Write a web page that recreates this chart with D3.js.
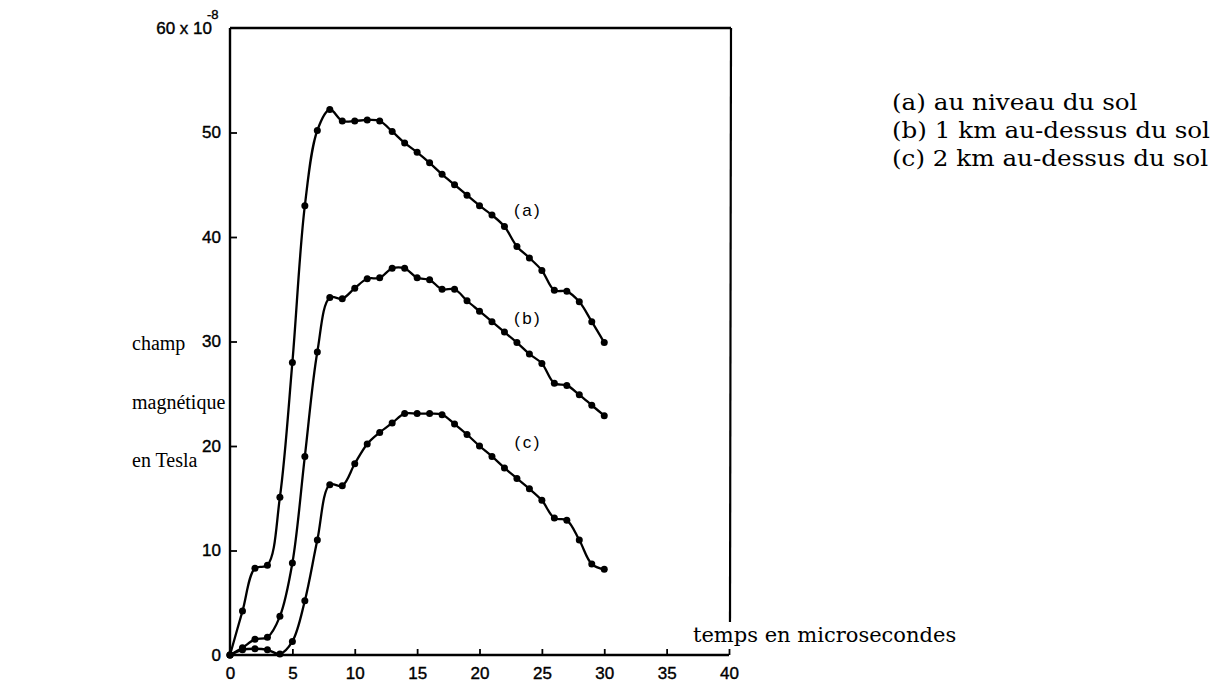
<!DOCTYPE html>
<html>
<head>
<meta charset="utf-8">
<script src="https://cdn.jsdelivr.net/npm/d3@7/dist/d3.min.js"></script>
<style>
  html, body { margin: 0; padding: 0; background: #fff; }
  svg { display: block; }
  .tick text { font-family: "Liberation Sans", Arial, sans-serif; }
</style>
</head>
<body>
<svg id="chart" width="1224" height="682"></svg>
<script>
// ---- data ----
const times = [0,1,2,3,4,5,6,7,8,9,10,11,12,13,14,15,16,17,18,19,20,21,22,23,24,25,26,27,28,29,30];
const seriesA = [0,4.2,8.3,8.6,15.1,28,43,50.2,52.2,51.1,51.1,51.2,51.1,50.1,49.0,48.1,47.1,46.0,45.0,44.0,43.0,42.1,41.0,39.1,38.0,36.8,34.9,34.8,33.8,31.9,29.9];
const seriesB = [0,0.7,1.5,1.7,3.7,8.8,19,29,34.2,34.1,35.1,36.0,36.1,37.0,37.0,36.1,35.9,35.0,35.0,33.9,32.9,31.9,30.9,29.9,28.8,27.9,26.0,25.8,24.9,23.9,22.9];
const seriesC = [0,0.5,0.6,0.5,0.1,1.3,5.2,11,16.3,16.2,18.3,20.2,21.3,22.2,23.1,23.1,23.1,23.0,22.1,21.1,20.0,19.0,17.9,16.9,15.9,14.8,13.1,12.9,11.0,8.7,8.2];
const seriesTags = ["(a)", "(b)", "(c)"];
const tagPositions = [[23.9, 42.0], [23.9, 31.7], [23.9, 19.8]]; // data coords of curve tags
const xTicks = [0,5,10,15,20,25,30,35,40];
const yTicks = [0,10,20,30,40,50];
const yTopLabel = "60 x 10";
const yTopExp = "-8";
const yLabelLines = ["champ", "magnétique", "en Tesla"];
const xLabel = "temps en microsecondes";
const legendLines = ["(a) au niveau du sol", "(b) 1 km au-dessus du sol", "(c) 2 km au-dessus du sol"];

// ---- layout ----
const svg = d3.select("#chart");
const x = d3.scaleLinear().domain([0, 40]).range([230, 729]);
const y = d3.scaleLinear().domain([0, 60]).range([655, 28]);

// frame: top and right borders
svg.append("line").attr("x1", x(0)).attr("x2", x(40) + 2).attr("y1", y(60)).attr("y2", y(60))
  .attr("stroke", "#000").attr("stroke-width", 2.6);
svg.append("line").attr("x1", x(40) + 2).attr("x2", x(40) + 1).attr("y1", y(60)).attr("y2", 622)
  .attr("stroke", "#000").attr("stroke-width", 2.2);

// x axis
const gx = svg.append("g").attr("transform", `translate(0,${y(0)})`)
  .call(d3.axisBottom(x).tickValues(xTicks).tickSize(-6).tickPadding(12).tickFormat(d3.format("d")));
gx.select(".domain").attr("stroke-width", 2.6).attr("d", `M${x(0)},0H${x(40)}`);
gx.selectAll(".tick line").attr("stroke-width", 1.8);
gx.selectAll(".tick text").attr("font-size", 17).attr("fill", "#000").attr("stroke", "#000").attr("stroke-width", 0.4);

// y axis
const gy = svg.append("g").attr("transform", `translate(${x(0)},0)`)
  .call(d3.axisLeft(y).tickValues(yTicks).tickSize(-7).tickPadding(9).tickFormat(d3.format("d")));
gy.select(".domain").attr("stroke-width", 2.4).attr("d", `M0,${y(0)}V${y(60)}`);
gy.selectAll(".tick line").attr("stroke-width", 1.8);
gy.selectAll(".tick text").attr("font-size", 17).attr("fill", "#000").attr("stroke", "#000").attr("stroke-width", 0.4);
gy.selectAll(".tick").filter(d => d === 0).select("line").remove();

// top label 60 x 10^-8
const topG = svg.append("g").attr("font-family", "Liberation Sans, Arial, sans-serif")
  .attr("fill", "#000").attr("stroke", "#000").attr("stroke-width", 0.4);
topG.append("text").attr("x", x(0) - 18).attr("y", y(60) + 6).attr("text-anchor", "end")
  .attr("font-size", 17).text(yTopLabel);
topG.append("text").attr("x", x(0) - 23).attr("y", y(60) - 9)
  .attr("font-size", 13).text(yTopExp);

// curves
const line = d3.line().x((d, i) => x(times[i])).y(d => y(d)).curve(d3.curveCatmullRom.alpha(0.5));
const allSeries = [seriesA, seriesB, seriesC];
allSeries.forEach((s, k) => {
  svg.append("path").datum(s).attr("d", line).attr("fill", "none")
    .attr("stroke", "#000").attr("stroke-width", 2.3);
  svg.append("g").selectAll("circle").data(s).join("circle")
    .attr("cx", (d, i) => x(times[i])).attr("cy", d => y(d)).attr("r", 3.5).attr("fill", "#000");
  svg.append("text").attr("x", x(tagPositions[k][0])).attr("y", y(tagPositions[k][1]))
    .attr("text-anchor", "middle").attr("font-family", "Liberation Sans, Arial, sans-serif")
    .attr("font-size", 17).attr("letter-spacing", 2.5).attr("fill", "#000").text(seriesTags[k]);
});

// y label (left)
svg.append("g").selectAll("text").data(yLabelLines).join("text")
  .attr("x", 132).attr("y", (d, i) => 350 + i * 58.5)
  .attr("font-family", "Liberation Serif, Times New Roman, serif").attr("font-size", 20)
  .attr("fill", "#000").text(d => d);

// x label
const serif = "DejaVu Serif, Liberation Serif, serif";
svg.append("text").attr("x", 693).attr("y", 642)
  .attr("font-family", serif).attr("font-size", 21).attr("fill", "#000").text(xLabel);

// legend (slightly wide serif, as in the reference)
svg.append("g").attr("transform", "translate(892,0) scale(1.12,1)")
  .selectAll("text").data(legendLines).join("text")
  .attr("x", 0).attr("y", (d, i) => 110 + i * 28)
  .attr("font-family", serif).attr("font-size", 22).attr("fill", "#000").text(d => d);
</script>
</body>
</html>
